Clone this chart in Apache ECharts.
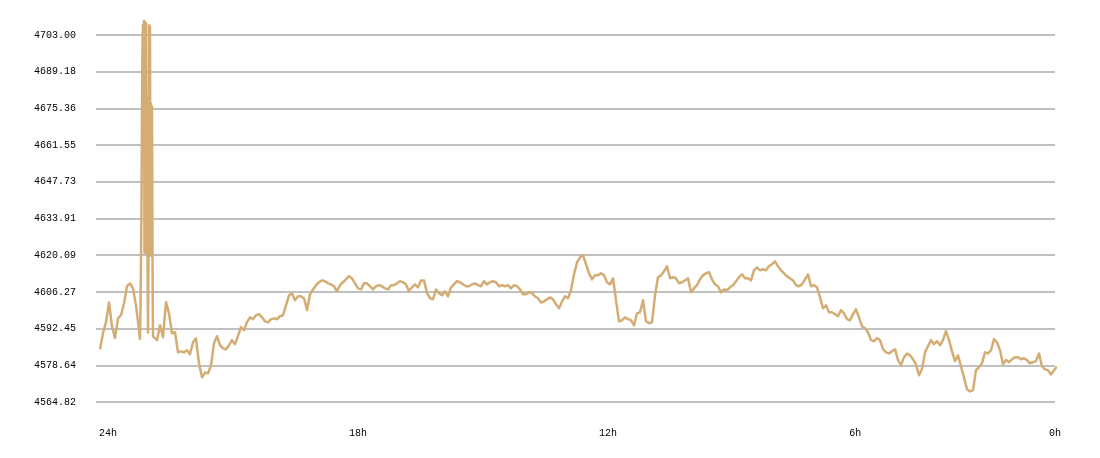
<!DOCTYPE html>
<html>
<head>
<meta charset="utf-8">
<script src="https://cdn.jsdelivr.net/npm/echarts@6/dist/echarts.min.js"></script>
<style>
html,body{margin:0;padding:0;background:#ffffff;}
#chart{width:1100px;height:458px;}
</style>
</head>
<body>
<div id="chart"></div>
<script>
// ---- data ----
const xTickLabels = ['24h', '18h', '12h', '6h', '0h'];
const yTickLabels = ['4564.82', '4578.64', '4592.45', '4606.27', '4620.09', '4633.91',
                     '4647.73', '4661.55', '4675.36', '4689.18', '4703.00'];

const SAMPLE_MIN = 4.5;    // regular sampling interval, minutes
const SPIKE_MIN = 0.75;    // fine sampling inside the spike, minutes
const SPIKE_START = 60;    // minute of first spike sample
const AFTER_START = 81;    // minute of first sample after the spike

const pricesBeforeSpike = [
  4584.7, 4590.7, 4594.8, 4602.3, 4593.3, 4588.9, 4596.3, 4597.5, 4602.0, 4608.4,
  4609.5, 4607.6, 4601.2, 4591.9
];

const spikePrices = [
  4588.5, 4600.0, 4619.0, 4640.0, 4676.0, 4700.0, 4707.0, 4676.0, 4708.3, 4621.0,
  4708.0, 4640.0, 4707.5, 4620.5, 4680.0, 4620.0, 4591.0, 4620.0, 4706.8, 4677.0,
  4706.0, 4620.0, 4677.0, 4620.0, 4676.0, 4619.5, 4589.5
];

const pricesAfterSpike = [
  4589.6, 4588.1, 4593.7, 4589.2, 4602.4, 4598.2, 4590.7, 4591.1, 4583.5, 4583.9,
  4583.5, 4584.3, 4582.8, 4587.3, 4588.8, 4579.4, 4574.1, 4575.9, 4575.6, 4578.6,
  4586.9, 4589.6, 4586.2, 4585.0, 4584.7, 4586.2, 4588.1, 4586.6, 4589.6, 4593.0,
  4591.9, 4594.9, 4596.7, 4596.0,
  4597.5, 4597.9, 4596.7, 4595.2, 4594.8, 4596.0, 4596.3, 4596.0, 4597.1, 4597.5,
  4601.2, 4605.0, 4605.7, 4603.1, 4604.6, 4604.6, 4603.9, 4599.4, 4605.4, 4607.2,
  4608.8, 4609.9, 4610.6, 4610.3, 4609.5, 4609.1, 4608.4, 4606.5, 4608.8, 4609.9,
  4611.0, 4612.2, 4611.4, 4609.5, 4607.6, 4607.2, 4609.5, 4609.5, 4608.4, 4607.2,
  4608.4, 4608.8, 4608.4, 4607.6, 4607.2, 4608.8, 4608.8, 4609.5, 4610.3, 4609.9,
  4609.1, 4606.5, 4608.0, 4609.1,
  4608.0, 4610.6, 4610.6, 4605.8, 4603.9, 4603.5, 4607.2, 4605.8, 4605.0, 4606.5,
  4604.6, 4608.0, 4609.1, 4610.3, 4609.9, 4609.1, 4608.4, 4608.4, 4609.1, 4609.5,
  4608.8, 4608.4, 4610.3, 4609.1, 4609.9, 4610.3, 4609.9, 4608.4, 4608.8, 4608.4,
  4608.8, 4607.6, 4608.8, 4608.4, 4607.2, 4605.4, 4605.4, 4606.1, 4605.8, 4604.6,
  4603.9, 4602.3, 4602.7, 4603.5, 4604.2, 4603.5, 4601.6, 4600.1, 4602.7, 4604.6,
  4603.9, 4606.9, 4612.9,
  4617.4, 4619.3, 4620.1, 4616.7, 4613.3, 4611.0, 4612.5, 4612.5, 4613.3, 4612.5,
  4609.9, 4609.1, 4611.4, 4603.1, 4595.2, 4595.6, 4596.7, 4596.0, 4595.6, 4593.7,
  4598.2, 4598.6, 4603.1, 4595.2, 4594.5, 4594.8, 4605.0, 4611.8, 4612.5, 4614.0,
  4615.9, 4611.4, 4611.8, 4611.4, 4609.5, 4609.9, 4610.6, 4611.4, 4606.1, 4607.6,
  4608.8, 4611.0, 4612.5, 4613.3, 4613.7, 4611.0, 4609.1, 4608.4, 4606.1, 4607.2,
  4606.9, 4608.0, 4608.8,
  4610.3, 4611.8, 4612.9, 4611.4, 4611.4, 4610.6, 4614.4, 4615.5, 4614.4, 4614.8,
  4614.4, 4615.9, 4616.7, 4617.8, 4615.9, 4614.4, 4613.3, 4612.1, 4611.4, 4610.6,
  4608.8, 4608.4, 4609.1, 4611.0, 4612.9, 4608.4, 4608.8, 4608.0, 4604.2, 4600.1,
  4601.2, 4598.6, 4598.6, 4597.9, 4597.1, 4599.4, 4598.2, 4596.0, 4595.6, 4597.9,
  4599.7, 4596.7, 4593.3, 4592.6, 4591.1, 4588.1, 4587.7, 4588.9, 4588.1, 4584.7,
  4583.5, 4583.1, 4583.9, 4584.7,
  4580.6, 4578.7, 4581.7, 4583.1, 4582.4, 4580.9, 4579.0, 4574.9, 4577.2, 4583.5,
  4585.8, 4588.1, 4586.6, 4587.7, 4586.2, 4588.1, 4591.5, 4588.1, 4583.9, 4580.2,
  4582.4, 4578.2, 4574.1, 4569.6, 4568.8, 4569.2, 4576.8, 4577.9, 4579.4, 4583.5,
  4583.1, 4584.3, 4588.5, 4587.3, 4584.3, 4579.0, 4580.6, 4579.8, 4580.9, 4581.7,
  4581.7, 4580.9, 4581.3, 4580.6, 4579.4, 4579.8, 4580.2, 4583.1, 4578.2, 4577.1,
  4576.8, 4575.2, 4576.8, 4578.2
];

// ---- build series (minutes since the 24h-ago start) ----
const seriesData = [];
pricesBeforeSpike.forEach((v, i) => seriesData.push([i * SAMPLE_MIN, v]));
spikePrices.forEach((v, i) => seriesData.push([SPIKE_START + i * SPIKE_MIN, v]));
pricesAfterSpike.forEach((v, i) => seriesData.push([AFTER_START + i * SAMPLE_MIN, v]));

const Y_MAX = 4703;
const Y_STEP = 13.8182;
const Y_MIN = Y_MAX - Y_STEP * (yTickLabels.length - 1);

const labelPositions = [12, 387, 762, 1133, 1432.5];

const chart = echarts.init(document.getElementById('chart'), null, { renderer: 'canvas' });
chart.setOption({
  animation: false,
  backgroundColor: '#ffffff',
  grid: { left: 96, right: 45, top: 35, bottom: 56, containLabel: false },
  xAxis: {
    type: 'value',
    min: -6,
    max: 1432.5,
    axisLine: { show: false },
    axisTick: { show: false },
    splitLine: { show: false },
    axisLabel: {
      customValues: labelPositions,
      margin: 26,
      color: '#000000',
      fontFamily: 'Liberation Mono',
      fontSize: 10,
      formatter: function (v) {
        let best = 0, d = Infinity;
        labelPositions.forEach((p, i) => { if (Math.abs(p - v) < d) { d = Math.abs(p - v); best = i; } });
        return xTickLabels[best];
      }
    }
  },
  yAxis: {
    type: 'value',
    min: Y_MIN,
    max: Y_MAX,
    interval: Y_STEP,
    axisLine: { show: false },
    axisTick: { show: false },
    splitLine: { show: true, lineStyle: { color: '#c0c0c0', width: 2 } },
    axisLabel: {
      margin: 20,
      color: '#000000',
      fontFamily: 'Liberation Mono',
      fontSize: 10,
      formatter: function (v) {
        const idx = Math.round((v - Y_MIN) / Y_STEP);
        return yTickLabels[idx] !== undefined ? yTickLabels[idx] : v.toFixed(2);
      }
    }
  },
  series: [{
    type: 'line',
    data: seriesData,
    showSymbol: false,
    clip: false,
    lineStyle: { color: '#d4ad74', width: 2.5, join: 'round' },
    emphasis: { disabled: true }
  }]
});
</script>
</body>
</html>
